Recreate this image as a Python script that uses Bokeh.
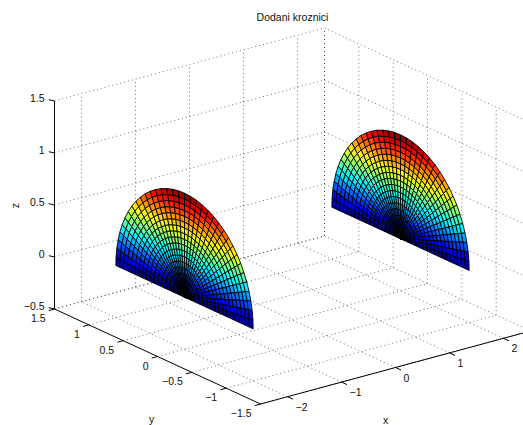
import math
from bokeh.core.properties import value
from bokeh.embed import file_html
from bokeh.models import ColumnDataSource, Range1d
from bokeh.plotting import figure
from bokeh.resources import INLINE

title = "Dodani kroznici"
x_limits = [-2.5, 2.5]
y_limits = [-1.5, 1.5]
z_limits = [-0.5, 1.5]
x_ticks = [-2, -1, 0, 1, 2]
y_ticks = [-1.5, -1, -0.5, 0, 0.5, 1, 1.5]
z_ticks = [-0.5, 0, 0.5, 1, 1.5]
x_labels = ["\u22122", "\u22121", "0", "1", "2"]
y_labels = ["\u22121.5", "\u22121", "\u22120.5", "0", "0.5", "1", "1.5"]
z_labels = ["\u22120.5", "0", "0.5", "1", "1.5"]
disk_positions = [-2, 2]
radii = [0, .056, .111, .167, .222, .278, .333, .389, .444, .5, .556, .611, .667, .722, .778, .833,
         .889, .944, 1]
angles_deg = [0, 5, 10, 15, 20, 25, 30, 35, 40, 45, 50, 55, 60, 65, 70, 75, 80, 85, 90, 95, 100,
              105, 110, 115, 120, 125, 130, 135, 140, 145, 150, 155, 160, 165, 170, 175, 180]

# view of the 3-D box on the page (page pixels per data unit)
ORIGIN = (292.0, 267.5)
UX, UY, UZ = (54.0, -14.6), (-68.67, -31.67), (0.0, -104.0)


def proj(x, y, z):
    return (ORIGIN[0] + x * UX[0] + y * UY[0] + z * UZ[0],
            ORIGIN[1] + x * UX[1] + y * UY[1] + z * UZ[1])


def jet(v):
    v = max(0.0, min(1.0, v))
    v = (math.floor(v * 63.999) + 0.5) / 64
    c = lambda t: max(0.0, min(1.0, 1.5 - abs(4 * t)))
    r, g, b = c(v - 0.75), c(v - 0.5), c(v - 0.25)
    return "#%02x%02x%02x" % (round(r * 255), round(g * 255), round(b * 255))


p = figure(width=523, height=425, output_backend="svg", toolbar_location=None,
           x_range=Range1d(0, 523), y_range=Range1d(425, 0), min_border=0,
           outline_line_color=None, background_fill_color="white")
p.margin = (0, 0, 0, 0)
p.axis.visible = False
p.grid.visible = False

# dotted grid
gx, gy = [], []


def grid_line(a, b):
    pa, pb = proj(*a), proj(*b)
    gx.append([pa[0], pb[0]])
    gy.append([pa[1], pb[1]])


x0, x1 = x_limits
y0, y1 = y_limits
z0, z1 = z_limits
for t in x_ticks:
    grid_line((t, y0, z0), (t, y1, z0))
    grid_line((t, y1, z0), (t, y1, z1))
for t in y_ticks:
    grid_line((x0, t, z0), (x1, t, z0))
    grid_line((x1, t, z0), (x1, t, z1))
for t in z_ticks:
    grid_line((x0, y1, t), (x1, y1, t))
    grid_line((x1, y1, t), (x1, y0, t))
grid_line((x1, y1, z0), (x1, y1, z1))
p.multi_line(gx, gy, line_color="#333333", line_width=0.7, line_dash="1 3")

# axes
ax, ay = [], []


def axis_line(a, b):
    pa, pb = proj(*a), proj(*b)
    ax.append([pa[0], pb[0]])
    ay.append([pa[1], pb[1]])


axis_line((x0, y1, z0), (x0, y1, z1))
axis_line((x0, y1, z0), (x0, y0, z0))
axis_line((x0, y0, z0), (x1, y0, z0))
for t in z_ticks:
    s = proj(x0, y1, t)
    ax.append([s[0], s[0] - 5.7])
    ay.append([s[1], s[1] - 1.3])
for t in y_ticks:
    s = proj(x0, t, z0)
    ax.append([s[0], s[0] - 5.8])
    ay.append([s[1], s[1] + 1.6])
for t in x_ticks:
    s = proj(t, y0, z0)
    ax.append([s[0], s[0] + 5.5])
    ay.append([s[1], s[1] + 2.5])
p.multi_line(ax, ay, line_color="black", line_width=1)

# half disks
for d in disk_positions:
    xs, ys, colors = [], [], []
    for i in range(len(radii) - 1):
        for j in range(len(angles_deg) - 1):
            cx, cy, zs = [], [], []
            for ri, aj in ((i, j), (i + 1, j), (i + 1, j + 1), (i, j + 1)):
                th = math.radians(angles_deg[aj])
                yy, zz = radii[ri] * math.cos(th), radii[ri] * math.sin(th)
                q = proj(d, yy, zz)
                cx.append(q[0])
                cy.append(q[1])
                zs.append(zz)
            xs.append(cx)
            ys.append(cy)
            colors.append(jet(sum(zs) / 4))
    src = ColumnDataSource(dict(xs=xs, ys=ys, c=colors))
    p.patches("xs", "ys", source=src, fill_color="c", line_color="black", line_width=0.9)

FONT = value("Liberation Sans")
SIZE = "10.5px"


def label(xs, ys, texts, align, dx=0, dy=0, angle=0.0, size=SIZE):
    p.text(xs, ys, text=texts, text_font=FONT, text_font_size=size, text_color="#111111",
           text_align=align, text_baseline="middle", x_offset=dx, y_offset=dy, angle=angle)


zp = [proj(x0, y1, t) for t in z_ticks]
label([q[0] for q in zp], [q[1] for q in zp], z_labels, "right", -10, -3)
yp = [proj(x0, t, z0) for t in y_ticks]
label([q[0] for q in yp], [q[1] for q in yp], y_labels, "right", -9, 9)
xp = [proj(t, y0, z0) for t in x_ticks]
label([q[0] for q in xp], [q[1] for q in xp], x_labels, "left", 8, 10)

label([292], [16], [title], "center")
label([151], [418], ["y"], "center")
label([385], [419], ["x"], "center")
label([14], [205], ["z"], "center", angle=math.pi / 2)

open("out.html", "w").write(file_html(p, INLINE))
